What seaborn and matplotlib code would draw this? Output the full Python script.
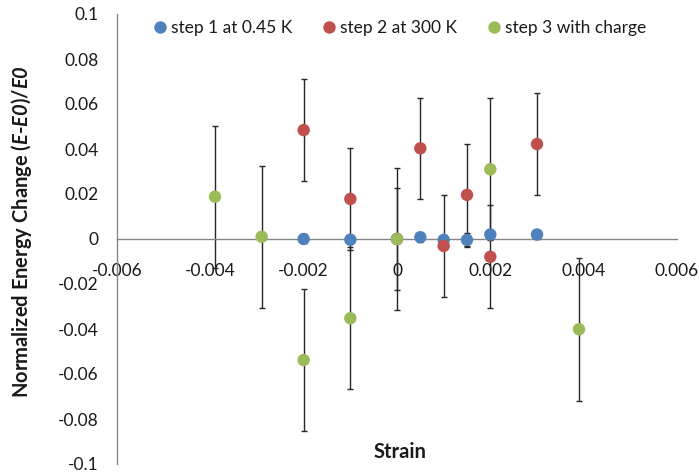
import matplotlib
matplotlib.use("Agg")
import matplotlib.pyplot as plt
import seaborn as sns
import pandas as pd
import numpy as np

# ---- data ----
s1_x = [-0.002, -0.001, 0.0, 0.0005, 0.001, 0.0015, 0.002, 0.003]
s1_y = [0.0, -0.0003, 0.0, 0.0008, -0.0004, -0.0004, 0.002, 0.002]
s1_err = [0.002, 0.002, 0.002, 0.002, 0.002, 0.003, 0.002, 0.002]

s2_x = [-0.002, -0.001, 0.0, 0.0005, 0.001, 0.0015, 0.002, 0.003]
s2_y = [0.0484, 0.0178, 0.0, 0.0403, -0.0031, 0.0196, -0.0079, 0.0422]
s2_err = [0.0225, 0.0228, 0.0227, 0.0225, 0.0225, 0.0225, 0.0228, 0.0225]

s3_x = [-0.0039, -0.0029, -0.002, -0.001, 0.0, 0.002, 0.0039]
s3_y = [0.0188, 0.001, -0.0538, -0.0352, 0.0, 0.031, -0.0401]
s3_err = [0.0316, 0.0316, 0.0317, 0.0316, 0.0317, 0.0316, 0.0317]

series_names = ["step 1 at 0.45 K", "step 2 at 300 K", "step 3 with charge"]
colors = ["#4F81BD", "#C0504D", "#9BBB59"]
x_ticks = [-0.006, -0.004, -0.002, 0, 0.002, 0.004, 0.006]
x_ticklabels = ["-0.006", "-0.004", "-0.002", "0", "0.002", "0.004", "0.006"]
y_ticks = [-0.1, -0.08, -0.06, -0.04, -0.02, 0, 0.02, 0.04, 0.06, 0.08, 0.1]
y_ticklabels = ["-0.1", "-0.08", "-0.06", "-0.04", "-0.02", "0", "0.02", "0.04", "0.06", "0.08", "0.1"]

sns.set_style("white")
plt.rcParams["font.family"] = ["Lato", "DejaVu Sans"]
plt.rcParams["mathtext.fontset"] = "custom"
plt.rcParams["mathtext.bf"] = "Lato:bold"
plt.rcParams["mathtext.it"] = "Lato:italic"
try:
    plt.rcParams["mathtext.bfit"] = "Lato:bold:italic"
except Exception:
    pass

FS = 12.5
FS_TITLE = 14.5

frames = []
for name, xs, ys, es in [(series_names[0], s1_x, s1_y, s1_err),
                         (series_names[1], s2_x, s2_y, s2_err),
                         (series_names[2], s3_x, s3_y, s3_err)]:
    frames.append(pd.DataFrame({"strain": xs, "energy": ys, "err": es, "series": name}))
df = pd.concat(frames, ignore_index=True)

fig = plt.figure(figsize=(6.99, 4.75), dpi=100)
ax = fig.add_axes([117/699, 1-464/475, (677-117)/699, (464-14)/475])

# error bars (drawn under markers)
for name in series_names:
    sub = df[df["series"] == name]
    ax.errorbar(sub["strain"], sub["energy"], yerr=sub["err"], fmt="none",
                ecolor="#262626", elinewidth=1.0, capsize=2.3, capthick=1.0, zorder=2)

sns.scatterplot(data=df, x="strain", y="energy", hue="series", hue_order=series_names,
                palette=colors, s=80, edgecolor="none", linewidth=0, ax=ax, zorder=3)

ax.set_xlim(-0.006, 0.006)
ax.set_ylim(-0.1, 0.1)
ax.set_xticks(x_ticks)
ax.set_xticklabels(x_ticklabels)
ax.set_yticks(y_ticks)
ax.set_yticklabels(y_ticklabels)

for sp in ["top", "right"]:
    ax.spines[sp].set_visible(False)
ax.spines["bottom"].set_position(("data", 0))
ax.spines["bottom"].set_color("#868686")
ax.spines["left"].set_color("#868686")
ax.spines["bottom"].set_linewidth(1.0)
ax.spines["left"].set_linewidth(1.0)

ax.tick_params(axis="x", direction="in", length=6, width=1.0, color="#868686",
               labelsize=FS, labelcolor="#1a1a1a", pad=17)
ax.tick_params(axis="y", length=0, labelsize=FS, labelcolor="#1a1a1a", pad=13)
ax.set_xlabel("")
ax.set_ylabel("")

leg = ax.legend(loc="upper left", bbox_to_anchor=(139/699, 1 - 6/475),
                bbox_transform=fig.transFigure, ncol=3, frameon=False,
                fontsize=FS, handlelength=0.8, handletextpad=0.25,
                columnspacing=1.7, borderpad=0.3, markerscale=1.0)
for t in leg.get_texts():
    t.set_color("#1a1a1a")

fig.text(400/699, 1-452/475, "Strain", ha="center", va="center",
         fontsize=FS_TITLE, fontweight="bold", color="#1a1a1a")
fig.text(22/699, 1-232/475,
         r"Normalized Energy Change ($\mathbfit{E}$-$\mathbfit{E0}$)/$\mathbfit{E0}$",
         ha="center", va="center", rotation=90, fontsize=FS_TITLE, fontweight="bold",
         color="#1a1a1a")

fig.savefig("out.png", dpi=100)
